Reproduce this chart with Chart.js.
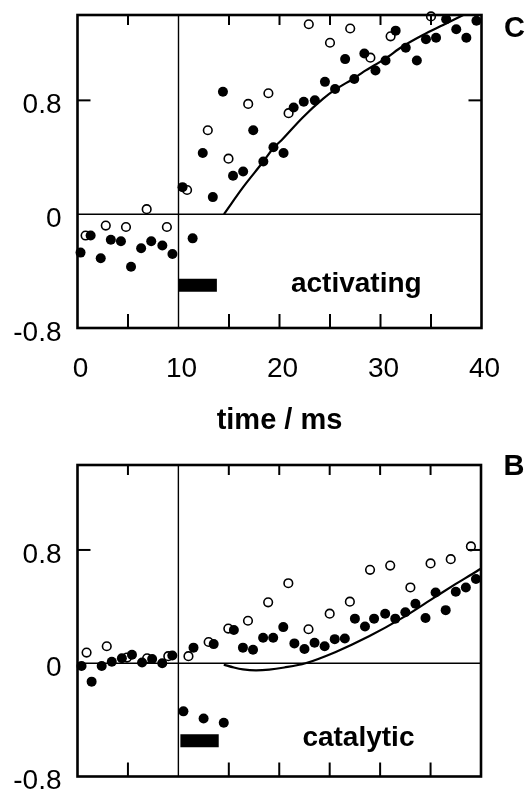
<!DOCTYPE html>
<html><head><meta charset="utf-8">
<script src="https://cdn.jsdelivr.net/npm/chart.js@4.4.1/dist/chart.umd.min.js"></script>
<style>
html,body{margin:0;padding:0;background:#fff;}
#wrap{position:relative;width:528px;height:789px;overflow:hidden;background:#fff;}
.pane{position:absolute;left:0;width:528px;}
</style></head><body>
<div id="wrap">
  <div class="pane" style="top:0;height:440px"><canvas id="c1" width="528" height="440"></canvas></div>
  <div class="pane" style="top:440px;height:349px"><canvas id="c2" width="528" height="349"></canvas></div>
</div>
<script>
// ---------- data ----------
const xTickLabels = [0, 10, 20, 30, 40];
const yTickLabels = [-0.8, 0, 0.8];
const xMinorTicks = [5, 15, 20, 25, 30, 35];
const yMinorTicks = [0.8];
const refLineX = [10];
const refLineY = [0];

// panel C (activating)
const cFilledX = [0.3,1.3,2.3,3.3,4.3,5.3,6.3,7.3,8.4,9.4,10.4,11.4,12.4,13.4,14.4,15.4,16.4,17.4,18.4,19.4,20.4,21.4,22.4,23.5,24.5,25.5,26.5,27.4,28.4,29.5,30.5,31.5,32.5,33.6,34.5,35.5,36.5,37.5,38.5,39.5];
const cFilledY = [-0.27,-0.15,-0.31,-0.18,-0.19,-0.37,-0.24,-0.19,-0.22,-0.28,0.19,-0.17,0.43,0.12,0.86,0.27,0.30,0.59,0.37,0.47,0.43,0.75,0.79,0.80,0.93,0.88,1.09,0.95,1.13,1.01,1.08,1.29,1.17,1.08,1.23,1.24,1.37,1.30,1.24,1.36];
const cOpenX = [0.8,2.8,4.8,6.85,8.85,10.85,12.9,14.95,16.9,18.9,20.9,22.9,25.0,27.0,29.0,31.0,35.0];
const cOpenY = [-0.15,-0.08,-0.09,0.035,-0.09,0.17,0.59,0.39,0.775,0.85,0.71,1.335,1.205,1.305,1.10,1.25,1.39];
const cFitX = [14.5,16.4,18.4,19.4,20.2,22.3,24.3,25.5,27.5,28.3,30.4,32.2,34.2,36.2,38.2];
const cFitY = [0.0,0.19,0.37,0.465,0.52,0.68,0.81,0.875,0.96,1.0,1.09,1.18,1.26,1.33,1.40];
const cPulseX = [10, 13.8];
const cPulseY = [-0.5, -0.5];

// panel B (catalytic)
const bFilledX = [0.4,1.4,2.4,3.4,4.4,5.4,6.4,7.4,8.4,9.4,10.5,11.5,12.5,13.5,14.5,15.5,16.4,17.4,18.4,19.4,20.4,21.5,22.5,23.5,24.5,25.5,26.5,27.5,28.5,29.4,30.5,31.5,32.5,33.5,34.5,35.5,36.5,37.5,38.5,39.5];
const bFilledY = [-0.02,-0.13,-0.02,0.01,0.035,0.06,0.005,0.03,0.0,0.055,-0.34,0.11,-0.39,0.135,-0.42,0.235,0.11,0.095,0.18,0.18,0.255,0.14,0.10,0.145,0.12,0.17,0.175,0.315,0.26,0.315,0.35,0.315,0.36,0.42,0.32,0.50,0.375,0.505,0.535,0.595];
const bOpenX = [0.9,2.9,4.9,6.9,9.0,11.0,13.0,14.95,16.9,18.9,20.9,22.9,25.0,27.0,29.0,31.0,33.0,35.0,37.0,39.0];
const bOpenY = [0.075,0.12,0.04,0.035,0.05,0.05,0.15,0.245,0.30,0.43,0.565,0.24,0.35,0.435,0.66,0.69,0.535,0.705,0.735,0.825];
const bFitX = [14.5,15.5,16.4,17.7,19.0,20.5,22.6,25.6,28.9,32.2,35.5,37.5,39.8,40];
const bFitY = [-0.01,-0.03,-0.043,-0.05,-0.045,-0.03,0.0,0.08,0.19,0.32,0.47,0.56,0.66,0.67];
const bPulseX = [10.2, 14.0];
const bPulseY = [-0.548, -0.548];

// ---------- helpers ----------
const FONT = '"Liberation Sans", Arial, Helvetica, sans-serif';
const pts = (xs, ys) => xs.map((x, i) => ({x, y: ys[i]}));
const noPad = s => { s.paddingTop = 0; s.paddingBottom = 0; s.paddingLeft = 0; s.paddingRight = 0; };

const framePlugin = {
  id: 'frame',
  beforeDatasetsDraw(chart) {
    const {ctx, chartArea: a, scales: {x, y}} = chart;
    ctx.save();
    ctx.strokeStyle = '#000';
    ctx.lineWidth = 1.4;
    refLineY.forEach(v => {
      const py = y.getPixelForValue(v);
      ctx.beginPath(); ctx.moveTo(a.left, py); ctx.lineTo(a.right, py); ctx.stroke();
    });
    refLineX.forEach(v => {
      const px = x.getPixelForValue(v);
      ctx.beginPath(); ctx.moveTo(px, a.top); ctx.lineTo(px, a.bottom); ctx.stroke();
    });
    ctx.restore();
  },
  afterDatasetsDraw(chart, args, opts) {
    const {ctx, chartArea: a, scales: {x, y}} = chart;
    ctx.save();
    ctx.strokeStyle = '#000';
    ctx.lineWidth = 2;
    xMinorTicks.forEach(v => {
      const px = x.getPixelForValue(v);
      ctx.beginPath(); ctx.moveTo(px, a.top); ctx.lineTo(px, a.top + 10); ctx.stroke();
      ctx.beginPath(); ctx.moveTo(px, a.bottom); ctx.lineTo(px, a.bottom - 14); ctx.stroke();
    });
    yMinorTicks.forEach(v => {
      const py = y.getPixelForValue(v);
      ctx.beginPath(); ctx.moveTo(a.left, py); ctx.lineTo(a.left + 13, py); ctx.stroke();
      ctx.beginPath(); ctx.moveTo(a.right, py); ctx.lineTo(a.right - 13, py); ctx.stroke();
    });
    ctx.lineWidth = 2.6;
    ctx.strokeRect(a.left, a.top, a.right - a.left, a.bottom - a.top);
    // annotation text
    ctx.fillStyle = '#000';
    ctx.font = 'bold 28px ' + FONT;
    ctx.textAlign = 'center';
    ctx.textBaseline = 'middle';
    ctx.fillText(opts.label, x.getPixelForValue(opts.labelX), y.getPixelForValue(opts.labelY));
    ctx.font = 'bold 29px ' + FONT;
    ctx.fillText(opts.letter, a.right + 33, a.top + opts.letterDy);
    ctx.restore();
  }
};

function makePanel(id, d) {
  const datasets = [
    {type: 'scatter', data: pts(d.fx, d.fy), pointRadius: 5, pointBackgroundColor: '#000', pointBorderWidth: 0, pointBorderColor: '#000', order: 0, clip: 6},
    {type: 'scatter', data: pts(d.ox, d.oy), pointRadius: 4.3, pointBackgroundColor: '#fff', pointBorderColor: '#000', pointBorderWidth: 1.6, order: 1, clip: 6},
    {type: 'line', data: pts(d.lx, d.ly), borderColor: '#000', borderWidth: 2.2, pointRadius: 0, cubicInterpolationMode: 'monotone', fill: false, order: 2, clip: 0},
    {type: 'line', data: pts(d.px, d.py), borderColor: '#000', borderWidth: 13, borderCapStyle: 'butt', pointRadius: 0, fill: false, order: 3, clip: 0}
  ];
  return new Chart(document.getElementById(id), {
    type: 'scatter',
    data: {datasets},
    plugins: [framePlugin],
    options: {
      responsive: false,
      animation: false,
      devicePixelRatio: 1,
      layout: {padding: {top: d.padTop, right: d.padRight, left: 0, bottom: 0}},
      plugins: {legend: {display: false}, tooltip: {enabled: false},
        frame: {label: d.label, labelX: d.labelX, labelY: d.labelY, letter: d.letter, letterDy: d.letterDy}},
      scales: {
        x: {
          type: 'linear', min: 0, max: 40,
          grid: {display: false, drawTicks: false},
          border: {display: false},
          afterBuildTicks: s => { s.ticks = xTickLabels.map(v => ({value: v})); },
          afterFit: s => { s.height = d.xAxisH; noPad(s); },
          ticks: {display: d.showX, autoSkip: false, maxRotation: 0, padding: 24, labelOffset: 3,
                  color: '#000', font: {family: FONT, size: 28}},
          title: {display: d.showX, text: 'time / ms', color: '#000', padding: {top: 0, bottom: 2},
                  font: {family: FONT, size: 29, weight: 'bold'}}
        },
        y: {
          type: 'linear', min: -0.8, max: 1.4,
          grid: {display: false, drawTicks: false},
          border: {display: false},
          afterBuildTicks: s => { s.ticks = yTickLabels.map(v => ({value: v})); },
          afterFit: s => { s.width = 77.5; noPad(s); },
          ticks: {autoSkip: false, padding: 16, labelOffset: 5, color: '#000',
                  font: {family: FONT, size: 28},
                  callback: v => v === 0 ? '0' : v.toFixed(1)}
        }
      }
    }
  });
}

makePanel('c1', {fx: cFilledX, fy: cFilledY, ox: cOpenX, oy: cOpenY, lx: cFitX, ly: cFitY, px: cPulseX, py: cPulseY,
  padTop: 15, padRight: 46.5, xAxisH: 112, showX: true, label: 'activating', labelX: 27.6, labelY: -0.49, letter: 'C', letterDy: 14});
makePanel('c2', {fx: bFilledX, fy: bFilledY, ox: bOpenX, oy: bOpenY, lx: bFitX, ly: bFitY, px: bPulseX, py: bPulseY,
  padTop: 25, padRight: 47, xAxisH: 12.5, showX: false, label: 'catalytic', labelX: 27.85, labelY: -0.533, letter: 'B', letterDy: 2});
</script>
</body></html>
